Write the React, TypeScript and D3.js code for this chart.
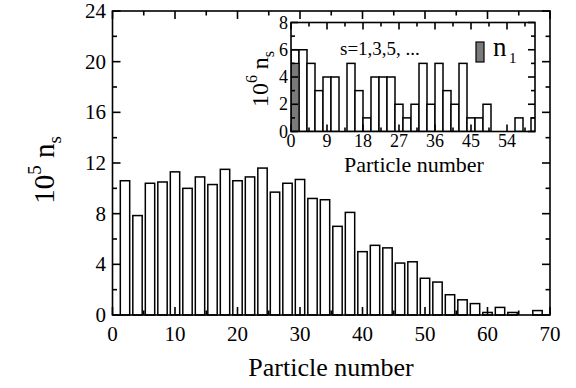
import * as d3 from 'd3';
import React from 'react';

// main histogram: even sizes, 10^5 n_s
const mainSizes = [2, 4, 6, 8, 10, 12, 14, 16, 18, 20, 22, 24, 26, 28, 30, 32, 34, 36, 38, 40, 42, 44, 46, 48, 50, 52, 54, 56, 58, 60, 62, 64, 66, 68];
const mainValues = [10.6, 7.85, 10.4, 10.5, 11.3, 10.0, 10.9, 10.3, 11.5, 10.6, 10.9, 11.6, 9.7, 10.4, 10.7, 9.2, 9.1, 7.0, 8.1, 5.0, 5.5, 5.3, 4.1, 4.2, 2.9, 2.6, 1.6, 1.2, 0.9, 0.2, 0.6, 0.2, 0, 0.35];
const mainXTicks = [0, 10, 20, 30, 40, 50, 60, 70];
const mainYTicks = [0, 4, 8, 12, 16, 20, 24];

// inset: odd sizes, 10^6 n_s
const insetSizes = [1, 3, 5, 7, 9, 11, 13, 15, 17, 19, 21, 23, 25, 27, 29, 31, 33, 35, 37, 39, 41, 43, 45, 47, 49, 51, 53, 55, 57, 59, 61];
const insetValues = [6, 6, 5, 3, 4, 4, 0, 5, 3, 1, 4, 4, 4, 2, 1, 2, 5, 2, 5, 3, 2, 5, 1, 1, 2, 0, 0, 0, 1, 0, 1];
const n1Size = [1];
const n1Value = [5];
const insetXTicks = [0, 9, 18, 27, 36, 45, 54];
const insetYTicks = [0, 2, 4, 6, 8];

const FONT = '"Liberation Serif", "Times New Roman", serif';

function Frame({ x, y, majorX, minorX, majorY, minorY, big, small }: any) {
    const [x0, x1] = x.range();
    const [y0, y1] = y.range(); // y0 bottom, y1 top
    const lines: any[] = [];
    const add = (k: string, a: number, b: number, c: number, d: number) =>
        lines.push(<line key={k} x1={a} y1={b} x2={c} y2={d} />);
    minorX.forEach((v: number, i: number) => {
        const p = x(v);
        const len = majorX.includes(v) ? big : small;
        add('b' + i, p, y0, p, y0 - len);
        add('t' + i, p, y1, p, y1 + len);
    });
    minorY.forEach((v: number, i: number) => {
        const p = y(v);
        const len = majorY.includes(v) ? big : small;
        add('l' + i, x0, p, x0 + len, p);
        add('r' + i, x1, p, x1 - len, p);
    });
    return (
        <g stroke="#000" strokeWidth={1.6} fill="none">
            {lines}
            <rect x={x0} y={y1} width={x1 - x0} height={y0 - y1} />
        </g>
    );
}

export default function App() {
    // main plot scales
    const x = d3.scaleLinear().domain([0, 70]).range([112.5, 550]);
    const y = d3.scaleLinear().domain([0, 24]).range([315, 11]);
    // inset scales
    const ix = d3.scaleLinear().domain([0, 61]).range([291, 535]);
    const iy = d3.scaleLinear().domain([0, 8]).range([131.5, 22.5]);

    const mainMinorX = d3.range(0, 70.01, 5);
    const mainMinorY = d3.range(0, 24.01, 2);
    const insetMinorX = d3.range(0, 61, 4.5);
    const insetMinorY = d3.range(0, 8.01, 1);

    return (
        <svg width={576} height={388} style={{ position: 'absolute', left: 0, top: 0, background: '#fff' }} fontFamily={FONT}>
            <defs>
                <clipPath id="insetClip">
                    <rect x={291} y={22.5} width={244} height={109} />
                </clipPath>
            </defs>

            {/* main bars */}
            <g fill="#fff" stroke="#000" strokeWidth={1.5}>
                {mainSizes.map((s, i) => mainValues[i] > 0 && (
                    <rect key={s} x={x(s - 0.75)} y={y(mainValues[i])}
                        width={x(1.5) - x(0)} height={y(0) - y(mainValues[i])} />
                ))}
            </g>
            <Frame x={x} y={y} majorX={mainXTicks} minorX={mainMinorX}
                majorY={mainYTicks} minorY={mainMinorY} big={8} small={4.5} />

            <g fontSize={21} textAnchor="middle">
                {mainXTicks.map(t => <text key={t} x={x(t)} y={341}>{t}</text>)}
            </g>
            <g fontSize={21} textAnchor="end">
                {mainYTicks.map(t => <text key={t} x={106} y={y(t) + 7}>{t}</text>)}
            </g>
            <text x={331} y={376} fontSize={26} textAnchor="middle">Particle number</text>
            <text transform="translate(54,170) rotate(-90)" fontSize={29} textAnchor="middle">
                <tspan>10</tspan>
                <tspan fontSize={19} dy={-13}>5</tspan>
                <tspan dy={13}> n</tspan>
                <tspan fontSize={19} dy={7}>s</tspan>
            </text>

            {/* inset */}
            <rect x={291} y={22.5} width={244} height={109} fill="#fff" />
            <g clipPath="url(#insetClip)">
                <g fill="#fff" stroke="#000" strokeWidth={1.5}>
                    {insetSizes.map((s, i) => insetValues[i] > 0 && (
                        <rect key={s} x={ix(s - 1)} y={iy(insetValues[i])}
                            width={ix(2) - ix(0)} height={iy(0) - iy(insetValues[i])} />
                    ))}
                </g>
                <g fill="#7a7a7a" stroke="#000" strokeWidth={1.2}>
                    {n1Size.map((s, i) => (
                        <rect key={s} x={ix(s - 1)} y={iy(n1Value[i])}
                            width={ix(2) - ix(0)} height={iy(0) - iy(n1Value[i])} />
                    ))}
                </g>
            </g>
            <Frame x={ix} y={iy} majorX={insetXTicks} minorX={insetMinorX}
                majorY={insetYTicks} minorY={insetMinorY} big={7} small={4} />
            <g fontSize={18} textAnchor="middle">
                {insetXTicks.map(t => <text key={t} x={ix(t)} y={147}>{t}</text>)}
            </g>
            <g fontSize={18} textAnchor="end">
                {insetYTicks.map(t => <text key={t} x={288} y={iy(t) + 6}>{t}</text>)}
            </g>
            <text x={414} y={172} fontSize={22} textAnchor="middle">Particle number</text>
            <text transform="translate(268,79) rotate(-90)" fontSize={24} textAnchor="middle">
                <tspan>10</tspan>
                <tspan fontSize={16} dy={-11}>6</tspan>
                <tspan dy={11}> n</tspan>
                <tspan fontSize={16} dy={6}>s</tspan>
            </text>
            <text x={340} y={55} fontSize={19}>s=1,3,5, ...</text>
            <rect x={476} y={42} width={8} height={20} fill="#7a7a7a" stroke="#000" strokeWidth={1.2} />
            <text x={493} y={56} fontSize={27}>n</text>
            <text x={509} y={63} fontSize={15}>1</text>
        </svg>
    );
}
